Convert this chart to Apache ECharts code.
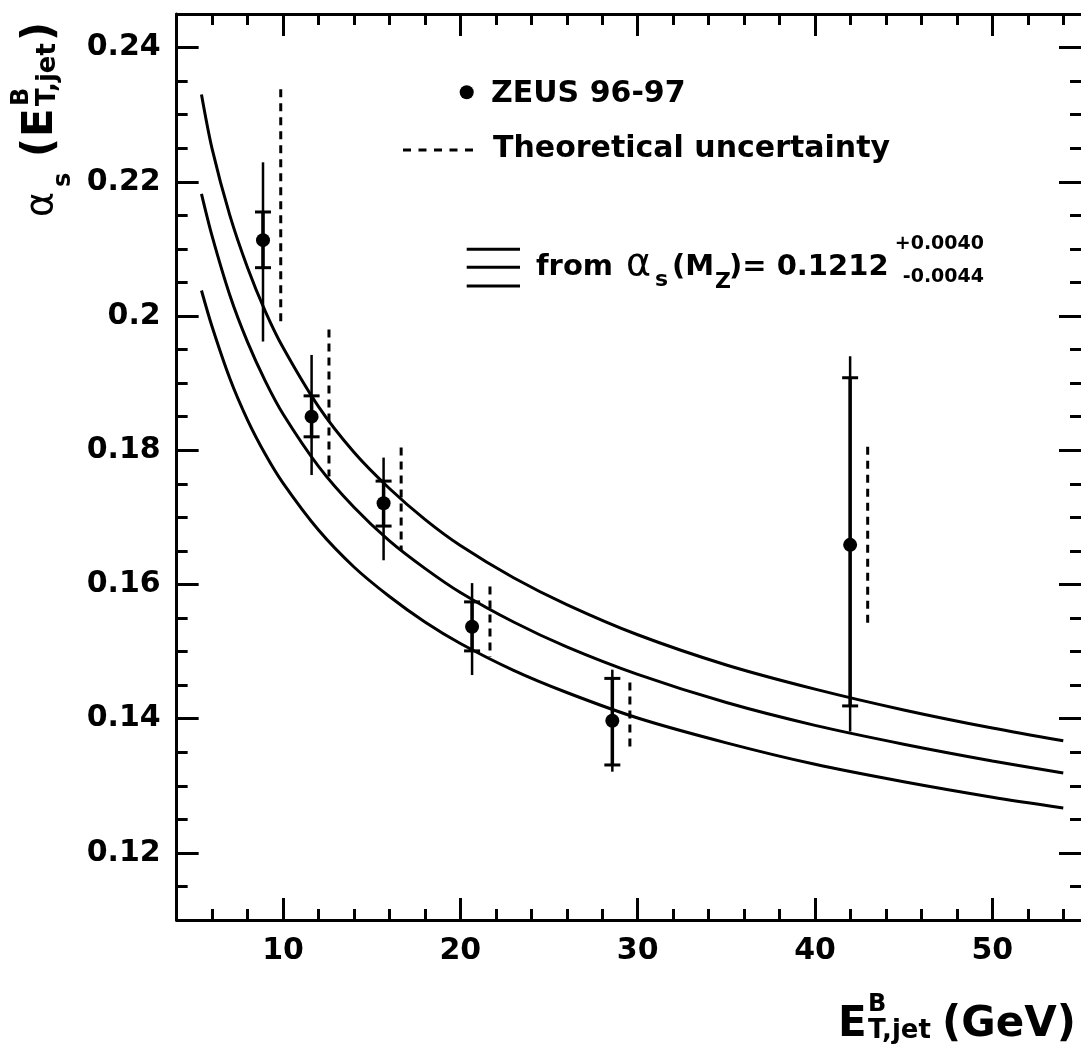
<!DOCTYPE html>
<html>
<head>
<meta charset="utf-8">
<script src="https://cdn.jsdelivr.net/npm/echarts@6/dist/echarts.min.js"></script>
<style>
  html, body { margin: 0; padding: 0; background: #fff; }
  #chart { width: 1081px; height: 1053px; }
</style>
</head>
<body>
<div id="chart"></div>
<script>
// ---------------- data ----------------
var energy     = [8.87, 11.61, 15.67, 20.66, 28.57, 41.98];
var alphaS     = [0.2113, 0.1850, 0.1721, 0.1537, 0.1397, 0.1659];
var totalHigh  = [0.2229, 0.1942, 0.1789, 0.1602, 0.1473, 0.1940];
var totalLow   = [0.1962, 0.1763, 0.1636, 0.1465, 0.1321, 0.1381];
var statHigh   = [0.2155, 0.1881, 0.1754, 0.1574, 0.1460, 0.1908];
var statLow    = [0.2072, 0.1820, 0.1687, 0.1501, 0.1331, 0.1419];
var theoryX    = [9.87, 12.59, 16.66, 21.67, 29.56, 42.97];
var theoryHigh = [0.2338, 0.1980, 0.1804, 0.1597, 0.1454, 0.1805];
var theoryLow  = [0.1987, 0.1761, 0.1651, 0.1492, 0.1353, 0.1540];

var curveE       = [5.4, 6, 7, 8, 9, 10, 12, 14, 16, 18, 20, 23, 26, 30, 35, 40, 45, 50, 54];
var curveUpper   = [0.2330, 0.2249, 0.2150, 0.2072, 0.2007, 0.1953, 0.1865, 0.1797, 0.1743, 0.1697, 0.1658, 0.1610, 0.1570, 0.1525, 0.1480, 0.1444, 0.1413, 0.1386, 0.1367];
var curveCentral = [0.2182, 0.2119, 0.2031, 0.1961, 0.1903, 0.1854, 0.1776, 0.1715, 0.1665, 0.1624, 0.1588, 0.1544, 0.1507, 0.1466, 0.1424, 0.1390, 0.1362, 0.1337, 0.1319];
var curveLower   = [0.2038, 0.1984, 0.1907, 0.1845, 0.1794, 0.1751, 0.1681, 0.1626, 0.1582, 0.1544, 0.1512, 0.1472, 0.1439, 0.1401, 0.1364, 0.1332, 0.1306, 0.1283, 0.1267];

var xMajorTicks = [10, 20, 30, 40, 50];
var xMinorTicks = [6, 8, 12, 14, 16, 18, 22, 24, 26, 28, 32, 34, 36, 38, 42, 44, 46, 48, 52, 54];
var yMajorTicks = [0.12, 0.14, 0.16, 0.18, 0.2, 0.22, 0.24];
var yMinorTicks = [0.115, 0.125, 0.13, 0.135, 0.145, 0.15, 0.155, 0.165, 0.17, 0.175,
                   0.185, 0.19, 0.195, 0.205, 0.21, 0.215, 0.225, 0.23, 0.235];

var xRange = [4, 55];
var yRange = [0.11, 0.245];

// ---------------- build ----------------
var FAM = "'DejaVu Sans', sans-serif";
function bold(sz) { return 'bold ' + sz + 'px ' + FAM; }
function normal(sz) { return sz + 'px ' + FAM; }

function zip2(a, b) { return a.map(function (v, i) { return [v, b[i]]; }); }

var pointData = energy.map(function (e, i) {
  return [e, alphaS[i], totalHigh[i], totalLow[i], statHigh[i], statLow[i]];
});
var theoryData = theoryX.map(function (e, i) {
  return [e, theoryHigh[i], theoryLow[i]];
});

function xAxisDef(pos, ticks, len, withLabel, withLine) {
  return {
    type: 'value', position: pos, min: xRange[0], max: xRange[1],
    axisLine: { show: withLine, onZero: false, lineStyle: { color: '#000', width: 3 } },
    axisTick: { show: true, inside: true, length: len, customValues: ticks,
                lineStyle: { color: '#000', width: 3 } },
    axisLabel: withLabel ? { show: true, customValues: ticks, margin: 16, color: '#000',
                             fontFamily: FAM, fontWeight: 'bold', fontSize: 30 }
                         : { show: false },
    splitLine: { show: false }
  };
}
function yAxisDef(pos, ticks, len, withLabel, withLine) {
  return {
    type: 'value', position: pos, min: yRange[0], max: yRange[1],
    axisLine: { show: withLine, onZero: false, lineStyle: { color: '#000', width: 3 } },
    axisTick: { show: true, inside: true, length: len, customValues: ticks,
                lineStyle: { color: '#000', width: 3 } },
    axisLabel: withLabel ? { show: true, customValues: ticks, margin: 16, color: '#000',
                             fontFamily: FAM, fontWeight: 'bold', fontSize: 30 }
                         : { show: false },
    splitLine: { show: false }
  };
}

function txt(t, x, y, font, align) {
  return { type: 'text', x: x, y: y, silent: true,
    style: { text: t, font: font, fill: '#000', textAlign: align || 'left',
             textVerticalAlign: 'middle', verticalAlign: 'middle' } };
}
function seg(x1, y1, x2, y2, w, dash) {
  return { type: 'line', silent: true, shape: { x1: x1, y1: y1, x2: x2, y2: y2 },
    style: { stroke: '#000', lineWidth: w, lineDash: dash || null } };
}

var graphics = [
  // legend
  { type: 'circle', silent: true, shape: { cx: 466.7, cy: 92.3, r: 7 }, style: { fill: '#000' } },
  txt('ZEUS 96-97', 491, 94.5, bold(30)),
  seg(403, 150, 473, 150, 3, [8, 7.5]),
  txt('Theoretical uncertainty', 493, 149.5, bold(30)),
  seg(466.7, 249.3, 520, 249.3, 3),
  seg(466.7, 267.3, 520, 267.3, 3),
  seg(466.7, 286, 520, 286, 3),
  txt('from', 536, 267.5, bold(29)),
  txt('\u03b1', 626, 265, normal(38)),
  txt('s', 655, 280, bold(22)),
  txt('(M', 672, 267.5, bold(29)),
  txt('Z', 715, 282, bold(22)),
  txt(')= 0.1212', 729, 267.5, bold(29)),
  txt('+0.0040', 984, 244, bold(19), 'right'),
  txt('-0.0044', 984, 277, bold(19), 'right'),
  // x axis title
  txt('E', 838, 1024.8, bold(42)),
  txt('B', 868, 1004.8, bold(24)),
  txt('T,jet', 868, 1031, bold(26)),
  txt('(GeV)', 942, 1024.8, bold(42)),
  // y axis title (rotated)
  { type: 'group', x: 56, y: 217, rotation: Math.PI / 2, children: [
      txt('\u03b1', 0, -14, normal(38)),
      txt('s', 30, 7.4, bold(24)),
      txt('(', 60, -14.5, bold(42)),
      txt('E', 80, -14.5, bold(42)),
      txt('B', 111, -34, bold(24)),
      txt('T,jet', 111, -8, bold(26)),
      txt(')', 176, -14.5, bold(42))
  ] }
];

var curveStyle = { color: '#000', width: 3 };

var option = {
  animation: false,
  backgroundColor: '#fff',
  grid: { left: 176.65, right: -2.2, top: 14, bottom: 133, containLabel: false },
  xAxis: [
    xAxisDef('bottom', xMajorTicks, 22, true, true),
    xAxisDef('bottom', xMinorTicks, 11, false, false),
    xAxisDef('top', xMajorTicks, 22, false, true),
    xAxisDef('top', xMinorTicks, 11, false, false)
  ],
  yAxis: [
    yAxisDef('left', yMajorTicks, 22, true, true),
    yAxisDef('left', yMinorTicks, 11, false, false),
    yAxisDef('right', yMajorTicks, 22, false, false),
    yAxisDef('right', yMinorTicks, 11, false, false)
  ],
  series: [
    { type: 'line', data: zip2(curveE, curveUpper), smooth: 0.3, showSymbol: false,
      lineStyle: curveStyle, silent: true, z: 2 },
    { type: 'line', data: zip2(curveE, curveCentral), smooth: 0.3, showSymbol: false,
      lineStyle: curveStyle, silent: true, z: 2 },
    { type: 'line', data: zip2(curveE, curveLower), smooth: 0.3, showSymbol: false,
      lineStyle: curveStyle, silent: true, z: 2 },
    { type: 'custom', data: theoryData, silent: true, z: 3,
      encode: { x: 0, y: [1, 2] },
      renderItem: function (params, api) {
        var x = api.value(0);
        var a = api.coord([x, api.value(1)]);
        var b = api.coord([x, api.value(2)]);
        return { type: 'line', shape: { x1: a[0], y1: a[1], x2: b[0], y2: b[1] },
                 style: { stroke: '#000', lineWidth: 3, lineDash: [8, 6] } };
      } },
    { type: 'custom', data: pointData, silent: true, z: 4,
      encode: { x: 0, y: [1, 2, 3, 4, 5] },
      renderItem: function (params, api) {
        var x = api.value(0);
        var th = api.coord([x, api.value(2)]);
        var tl = api.coord([x, api.value(3)]);
        var sh = api.coord([x, api.value(4)]);
        var sl = api.coord([x, api.value(5)]);
        var st = { stroke: '#000', lineWidth: 2.5 };
        return { type: 'group', children: [
          { type: 'line', shape: { x1: th[0], y1: th[1], x2: tl[0], y2: tl[1] }, style: st },
          { type: 'line', shape: { x1: sh[0], y1: sh[1], x2: sl[0], y2: sl[1] },
            style: { stroke: '#000', lineWidth: 3.5 } },
          { type: 'line', shape: { x1: sh[0] - 8, y1: sh[1], x2: sh[0] + 8, y2: sh[1] },
            style: { stroke: '#000', lineWidth: 3 } },
          { type: 'line', shape: { x1: sl[0] - 8, y1: sl[1], x2: sl[0] + 8, y2: sl[1] },
            style: { stroke: '#000', lineWidth: 3 } }
        ] };
      } },
    { type: 'scatter', data: zip2(energy, alphaS), symbol: 'circle', symbolSize: 14,
      itemStyle: { color: '#000', opacity: 1 }, silent: true, z: 5 }
  ],
  graphic: { elements: graphics }
};

var chart = echarts.init(document.getElementById('chart'), null, { renderer: 'canvas' });
chart.setOption(option);
</script>
</body>
</html>
